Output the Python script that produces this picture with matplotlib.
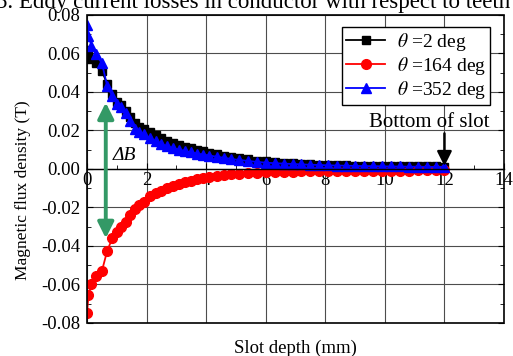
import matplotlib
matplotlib.use("Agg")
import matplotlib.pyplot as plt
from matplotlib.patches import Rectangle
from matplotlib.ticker import MultipleLocator, FormatStrFormatter

plt.rcParams["font.family"] = ["Liberation Serif", "DejaVu Serif"]
plt.rcParams["mathtext.fontset"] = "stix"
plt.rcParams["axes.unicode_minus"] = False

# slot depth (mm), shared by all three curves
depth = [0.0, 0.05, 0.15, 0.3, 0.5, 0.68, 0.85, 1.0, 1.15, 1.3, 1.45, 1.6,
         1.75, 1.9, 2.1, 2.3, 2.5, 2.7, 2.9, 3.1, 3.3, 3.5, 3.7, 3.9, 4.1,
         4.35, 4.6, 4.85, 5.1, 5.4, 5.7, 6.0, 6.3, 6.6, 6.9, 7.2, 7.5, 7.8,
         8.1, 8.4, 8.7, 9.0, 9.3, 9.6, 9.9, 10.2, 10.5, 10.8, 11.1, 11.4,
         11.7, 12.0]

b_2deg = [0.062, 0.060, 0.057, 0.055, 0.051, 0.044, 0.039, 0.035, 0.033,
          0.030, 0.027, 0.024, 0.022, 0.021, 0.019, 0.0175, 0.0162, 0.0148,
          0.0135, 0.0125, 0.0116, 0.0108, 0.0100, 0.0092, 0.0085, 0.0078,
          0.0070, 0.0063, 0.0057, 0.0050, 0.0044, 0.0039, 0.0035, 0.0032,
          0.0029, 0.0027, 0.0025, 0.0023, 0.0022, 0.0020, 0.0019, 0.0018,
          0.0017, 0.0016, 0.0016, 0.0015, 0.0015, 0.0014, 0.0014, 0.0013,
          0.0013, 0.0012]

b_164deg = [-0.075, -0.0655, -0.060, -0.0555, -0.053, -0.0424, -0.036,
            -0.0326, -0.030, -0.0274, -0.024, -0.021, -0.0185, -0.017,
            -0.014, -0.0125, -0.0113, -0.0100, -0.0088, -0.0078, -0.0068,
            -0.0060, -0.0052, -0.0046, -0.0041, -0.0036, -0.0032, -0.0028,
            -0.0025, -0.0022, -0.0020, -0.0018, -0.0016, -0.0015, -0.0014,
            -0.0013, -0.0012, -0.0011, -0.0011, -0.0010, -0.0010, -0.0009,
            -0.0009, -0.0009, -0.0008, -0.0008, -0.0008, -0.0008, -0.0007,
            -0.0007, -0.0007, -0.0007]

b_352deg = [0.075, 0.069, 0.064, 0.0595, 0.055, 0.043, 0.038, 0.034, 0.032,
            0.029, 0.025, 0.021, 0.019, 0.018, 0.016, 0.0145, 0.0128, 0.0118,
            0.0108, 0.0100, 0.0093, 0.0086, 0.0080, 0.0075, 0.0070, 0.0064,
            0.0058, 0.0052, 0.0047, 0.0042, 0.0037, 0.0033, 0.0030, 0.0028,
            0.0026, 0.0024, 0.0022, 0.0021, 0.0019, 0.0018, 0.0017, 0.0016,
            0.0015, 0.0015, 0.0014, 0.0013, 0.0013, 0.0012, 0.0012, 0.0011,
            0.0011, 0.0011]

labels = [r"$\theta$ =2 deg", r"$\theta$ =164 deg", r"$\theta$ =352 deg"]

fig = plt.figure(figsize=(5.13, 3.56), dpi=100)
ax = fig.add_axes([0.1696, 0.0927, 0.8129, 0.8652])

ax.plot(depth, b_2deg, color="black", marker="s", ms=6, lw=1.3, label=labels[0])
ax.plot(depth, b_164deg, color="red", marker="o", ms=7, lw=1.3, label=labels[1])
ax.plot(depth, b_352deg, color="blue", marker="^", ms=7, lw=1.3, label=labels[2])

ax.set_xlim(0, 14)
ax.set_ylim(-0.08, 0.08)
ax.xaxis.set_major_locator(MultipleLocator(2))
ax.xaxis.set_minor_locator(MultipleLocator(1))
ax.yaxis.set_major_locator(MultipleLocator(0.02))
ax.yaxis.set_minor_locator(MultipleLocator(0.01))
ax.yaxis.set_major_formatter(FormatStrFormatter("%.2f"))
ax.grid(True, which="major", color="0.3", lw=0.8)
ax.set_axisbelow(True)

# x axis runs through zero, frame drawn separately
ax.spines["bottom"].set_position(("data", 0))
ax.spines["bottom"].set_linewidth(1.0)
for side in ["top", "left", "right"]:
    ax.spines[side].set_visible(False)
ax.add_patch(Rectangle((0, 0), 1, 1, transform=ax.transAxes, fill=False,
                       ec="black", lw=1.2, zorder=5, clip_on=False))

ax.tick_params(which="both", direction="in", labelsize=13.5, right=True)
ax.tick_params(which="major", length=4)
ax.tick_params(which="minor", length=3)
ax.tick_params(axis="x", pad=2)
ax.tick_params(axis="y", pad=5)

ax.set_xlabel("Slot depth (mm)", fontsize=13.5)
ax.xaxis.set_label_coords(0.5, -0.055)
ax.set_ylabel("Magnetic flux density (T)", fontsize=12.5)
ax.yaxis.set_label_coords(-0.135, 0.43)

leg = ax.legend(loc="upper right", bbox_to_anchor=(0.966, 0.961),
                borderaxespad=0, fontsize=14, handlelength=2.0,
                labelspacing=0.1, handletextpad=0.6, borderpad=0.2,
                fancybox=False, framealpha=1)
leg.get_frame().set_edgecolor("black")
leg.get_frame().set_linewidth(1.0)

ax.text(11.5, 0.024, "Bottom of slot", ha="center", va="center", fontsize=15)
ax.annotate("", xy=(12, 0.0015), xytext=(12, 0.0185),
            arrowprops=dict(arrowstyle="-|>", color="black", lw=1.8,
                            mutation_scale=22, shrinkA=0, shrinkB=0))

ax.annotate("", xy=(0.63, -0.036), xytext=(0.63, 0.0345),
            arrowprops=dict(arrowstyle="<|-|>", color="#339966", lw=2.8,
                            mutation_scale=24, shrinkA=0, shrinkB=0))
ax.text(0.85, 0.0045, "ΔB", fontsize=14, style="italic")

fig.text(-0.008, 1 - 8 / 356, "5. Eddy current losses in conductor with respect to teeth",
         fontsize=16.5, va="baseline", ha="left")

fig.savefig("out.png", dpi=100)
